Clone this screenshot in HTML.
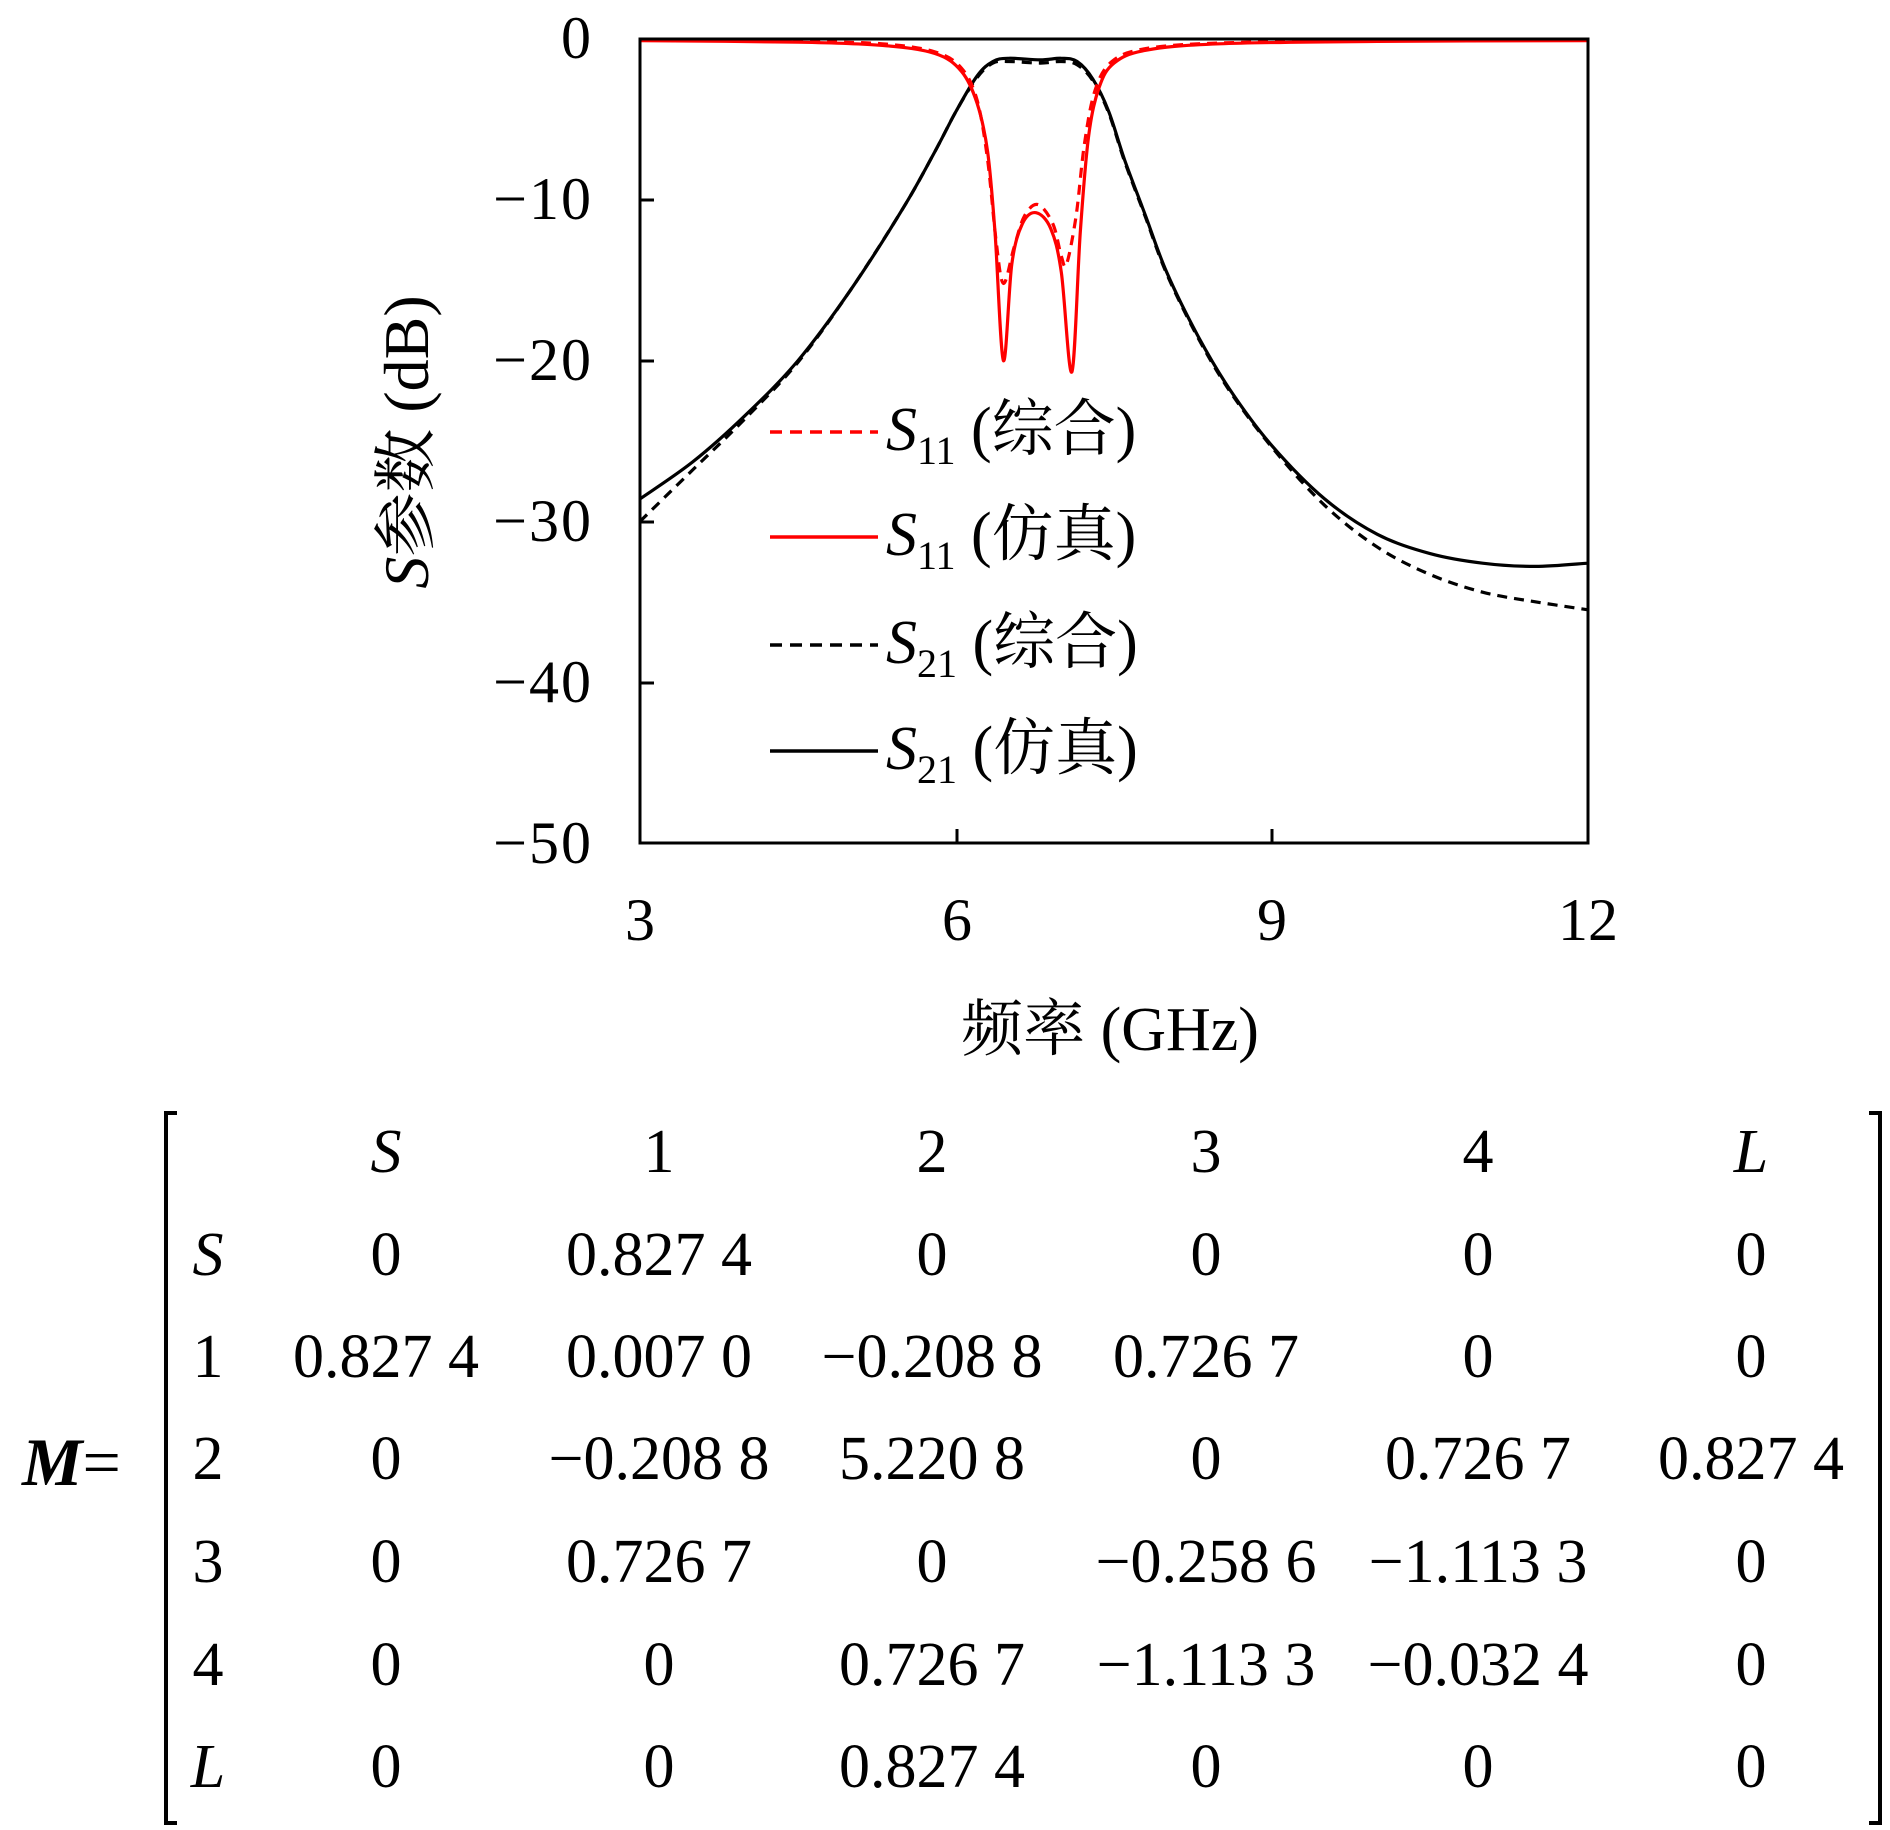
<!DOCTYPE html>
<html><head><meta charset="utf-8"><style>
html,body{margin:0;padding:0;background:#fff;}
svg text{font-family:"Liberation Serif","Noto Serif CJK SC",serif;fill:#000;}
</style></head><body>
<svg id="s" width="1890" height="1825" viewBox="0 0 1890 1825" xmlns="http://www.w3.org/2000/svg">
<g id="curves"></g>
<rect x="640" y="39" width="948" height="804" fill="none" stroke="#000" stroke-width="3"/>
<g stroke="#000" stroke-width="3">
<line x1="957" y1="843" x2="957" y2="829"/><line x1="1272" y1="843" x2="1272" y2="829"/>
<line x1="640" y1="200" x2="654" y2="200"/><line x1="640" y1="361" x2="654" y2="361"/>
<line x1="640" y1="522" x2="654" y2="522"/><line x1="640" y1="683" x2="654" y2="683"/>
</g>
<g font-size="60" text-anchor="end" letter-spacing="2">
<text x="593" y="58">0</text><text x="593" y="219">−10</text><text x="593" y="380">−20</text>
<text x="593" y="541">−30</text><text x="593" y="702">−40</text><text x="593" y="863">−50</text>
</g>
<g font-size="60" text-anchor="middle">
<text x="640" y="940">3</text><text x="957" y="940">6</text><text x="1272" y="940">9</text><text x="1588" y="940">12</text>
</g>
<text x="1110" y="1050" font-size="62" text-anchor="middle">频率 (GHz)</text>
<text transform="translate(428,442) rotate(-90)" font-size="64" text-anchor="middle"><tspan font-style="italic">S</tspan>参数 (dB)</text>
<g stroke-width="3.5">
<line x1="770" y1="432" x2="878" y2="432" stroke="#f00" stroke-dasharray="12,8"/>
<line x1="770" y1="537" x2="878" y2="537" stroke="#f00"/>
<line x1="770" y1="645" x2="878" y2="645" stroke="#000" stroke-dasharray="12,8"/>
<line x1="770" y1="751" x2="878" y2="751" stroke="#000"/>
</g>
<g font-size="62">
<text x="886" y="450"><tspan font-style="italic">S</tspan><tspan font-size="40" dy="14">11</tspan><tspan dy="-14"> (综合)</tspan></text>
<text x="886" y="555"><tspan font-style="italic">S</tspan><tspan font-size="40" dy="14">11</tspan><tspan dy="-14"> (仿真)</tspan></text>
<text x="886" y="663"><tspan font-style="italic">S</tspan><tspan font-size="40" dy="14">21</tspan><tspan dy="-14"> (综合)</tspan></text>
<text x="886" y="769"><tspan font-style="italic">S</tspan><tspan font-size="40" dy="14">21</tspan><tspan dy="-14"> (仿真)</tspan></text>
</g>
<path d="M177,1113 H166 V1823 H177" fill="none" stroke="#000" stroke-width="4"/>
<path d="M1869,1113 H1880 V1823 H1869" fill="none" stroke="#000" stroke-width="4"/>
<text x="22" y="1485" font-size="68"><tspan font-weight="bold" font-style="italic">M</tspan>=</text>
<g id="mat" font-size="62" text-anchor="middle"></g>
</svg>
<script>
var X=function(f){return 640+(f-3)*105.33},Y=function(d){return 39-d*16.08};
function path(pts){var p=pts.map(function(a){return [X(a[0]),Y(a[1])]});var d="M"+p[0][0].toFixed(1)+","+p[0][1].toFixed(1);
for(var i=0;i<p.length-1;i++){var p0=p[i-1]||p[i],p1=p[i],p2=p[i+1],p3=p[i+2]||p2;
d+=" C"+(p1[0]+(p2[0]-p0[0])/6).toFixed(1)+","+(p1[1]+(p2[1]-p0[1])/6).toFixed(1)+" "+(p2[0]-(p3[0]-p1[0])/6).toFixed(1)+","+(p2[1]-(p3[1]-p1[1])/6).toFixed(1)+" "+p2[0].toFixed(1)+","+p2[1].toFixed(1);}return d;}
var s21s=[[3,-28.6],[3.5,-26.3],[4,-23.4],[4.5,-20],[5,-15.6],[5.5,-10.5],[5.8,-7],[6,-4.5],[6.2,-2.3],[6.35,-1.4],[6.5,-1.2],[6.8,-1.3],[7,-1.2],[7.15,-1.4],[7.3,-2.5],[7.45,-4.5],[7.6,-7.5],[7.8,-11],[8,-14.5],[8.3,-18.5],[8.6,-21.8],[9,-25.3],[9.5,-28.6],[10,-30.8],[10.5,-32],[11,-32.6],[11.5,-32.8],[12,-32.6]];
var s21c=[[3,-30],[3.5,-26.8],[4,-23.6],[4.5,-20.1],[5,-15.6],[5.5,-10.5],[5.8,-7],[6,-4.5],[6.2,-2.4],[6.35,-1.5],[6.5,-1.4],[6.8,-1.5],[7,-1.4],[7.15,-1.6],[7.3,-2.6],[7.45,-4.6],[7.6,-7.6],[7.8,-11.1],[8,-14.6],[8.3,-18.6],[8.6,-21.9],[9,-25.4],[9.5,-29],[10,-31.6],[10.5,-33.3],[11,-34.4],[11.5,-35],[12,-35.5]];
var s11s=[[3,-0.1],[4.5,-0.2],[5.3,-0.4],[5.8,-0.9],[6.05,-2],[6.2,-4],[6.3,-7],[6.37,-12],[6.45,-20],[6.53,-14],[6.63,-11.5],[6.76,-10.8],[6.9,-11.8],[7.0,-14.5],[7.1,-20.7],[7.18,-12],[7.26,-6],[7.36,-3],[7.5,-1.5],[7.8,-0.7],[8.5,-0.3],[10,-0.15],[12,-0.1]];
var s11c=[[3,-0.05],[4.5,-0.15],[5.3,-0.3],[5.8,-0.8],[6.05,-1.8],[6.2,-3.8],[6.3,-7.5],[6.38,-12.5],[6.45,-15.2],[6.55,-13],[6.65,-11],[6.78,-10.3],[6.92,-11.5],[7.0,-13.5],[7.05,-14],[7.14,-11],[7.22,-6.5],[7.32,-3.2],[7.48,-1.4],[7.8,-0.6],[8.5,-0.25],[10,-0.1],[12,-0.05]];
var g=document.getElementById('curves'),ns="http://www.w3.org/2000/svg";
function add(pts,c,dash){var e=document.createElementNS(ns,'path');e.setAttribute('d',path(pts));e.setAttribute('fill','none');e.setAttribute('stroke',c);e.setAttribute('stroke-width','3.2');if(dash)e.setAttribute('stroke-dasharray','10,7');g.appendChild(e);}
add(s21c,'#000',1);add(s21s,'#000',0);add(s11c,'#f00',1);add(s11s,'#f00',0);
var cx=[208,386,659,932,1206,1478,1751],ry=[1172,1275,1377,1479,1582,1685,1787];
var rows=[["","*S","1","2","3","4","*L"],["*S","0","0.827 4","0","0","0","0"],["1","0.827 4","0.007 0","−0.208 8","0.726 7","0","0"],["2","0","−0.208 8","5.220 8","0","0.726 7","0.827 4"],["3","0","0.726 7","0","−0.258 6","−1.113 3","0"],["4","0","0","0.726 7","−1.113 3","−0.032 4","0"],["*L","0","0","0.827 4","0","0","0"]];
var m=document.getElementById('mat');
rows.forEach(function(r,i){r.forEach(function(t,j){if(!t)return;var e=document.createElementNS(ns,'text');e.setAttribute('x',cx[j]);e.setAttribute('y',ry[i]);if(t[0]=='*'){t=t.slice(1);e.setAttribute('font-style','italic');}e.textContent=t;m.appendChild(e);});});
</script>
</body></html>
